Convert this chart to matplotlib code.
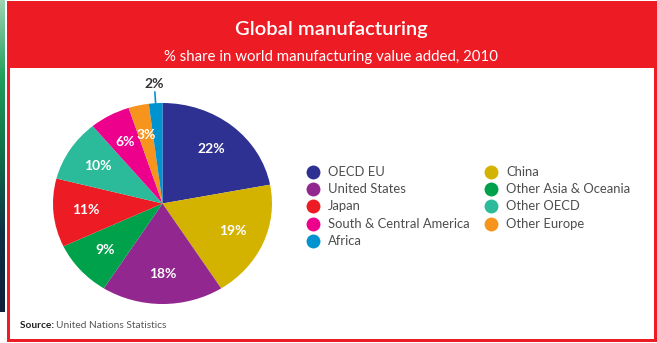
import numpy as np
import matplotlib
matplotlib.use("Agg")
import matplotlib.pyplot as plt
from matplotlib.patches import Rectangle
from matplotlib.colors import LinearSegmentedColormap

# ---- data ----
categories = ["OECD EU", "China", "United States", "Other Asia & Oceania", "Japan",
              "Other OECD", "South & Central America", "Other Europe", "Africa"]
values = [22, 19, 18, 9, 11, 10, 6, 3, 2]
colors = ["#2E3192", "#D4B300", "#92278F", "#00A14B", "#ED1C24",
          "#2BBB9A", "#EC008C", "#F7941D", "#0093D0"]
legend_order = ["OECD EU", "United States", "Japan", "South & Central America", "Africa",
                "China", "Other Asia & Oceania", "Other OECD", "Other Europe"]
title = "Global manufacturing"
subtitle = "% share in world manufacturing value added, 2010"
source_bold = "Source:"
source_text = "United Nations Statistics"

FONT = "Lato"
plt.rcParams["font.family"] = [FONT, "DejaVu Sans"]

W, H = 657, 343
fig = plt.figure(figsize=(W / 100, H / 100), dpi=100)
bg = fig.add_axes([0, 0, 1, 1])
bg.set_xlim(0, W)
bg.set_ylim(H, 0)
bg.axis("off")

RED = "#ED1C24"
# green/navy strip at left edge
grad = np.linspace(0, 1, 256).reshape(-1, 1)
cm = LinearSegmentedColormap.from_list("strip", ["#9ED3B0", "#1E9E5A", "#0E6E48", "#0D2F45", "#0F1F3C"])
bg.imshow(grad, aspect="auto", cmap=cm, extent=[0, 5, 312, 0], zorder=0)

# red frame and header
bg.add_patch(Rectangle((7, 1), W - 7, H - 2, facecolor=RED, edgecolor="none", zorder=1))
bg.add_patch(Rectangle((9.5, 68), 654 - 9.5, 339 - 68, facecolor="white", edgecolor="none", zorder=2))

bg.text(331, 30, title, color="white", fontsize=14.5, fontweight="semibold",
        ha="center", va="center", zorder=3)
bg.text(331, 57, subtitle, color="white", fontsize=10.8, ha="center", va="center", zorder=3)

# source
t = bg.text(20, 325, source_bold + " ", color="#222222", fontsize=7.3, fontweight="bold",
            ha="left", va="center", zorder=3)
fig.canvas.draw()
bb = t.get_window_extent()
bg.text(20 + bb.width, 325, source_text, color="#555555", fontsize=7.3,
        ha="left", va="center", zorder=3)

# ---- pie ----
pax = fig.add_axes([53 / W, (H - 304) / H, 219 / W, 201 / H])
wedges, texts, autotexts = pax.pie(
    values, colors=colors, startangle=90, counterclock=False,
    autopct=lambda p: f"{round(p):d}%", pctdistance=0.70,
    wedgeprops=dict(linewidth=0),
    textprops=dict(color="white", fontsize=10, fontweight="bold"))
pax.set_aspect("auto")
pax.set_xlim(-1, 1)
pax.set_ylim(-1, 1)
# small last slice gets an outside label
small = len(values) - 1
autotexts[small].set_visible(False)
w = wedges[small]
ang = np.deg2rad((w.theta1 + w.theta2) / 2)
x, y = np.cos(ang), np.sin(ang)
pax.plot([x, x * 1.11], [y, y * 1.11], color=colors[small], lw=1.2, clip_on=False)
pax.text(x * 1.19, y * 1.19, f"{values[small]}%", color="#333333", fontsize=10,
         fontweight="bold", ha="center", va="center", clip_on=False)

# ---- legend ----
col_x = [313, 491]
row_y0, row_dy = 172, 17.2
for i, name in enumerate(legend_order):
    col = 0 if i < 5 else 1
    row = i if i < 5 else i - 5
    cx = col_x[col]
    cy = row_y0 + row * row_dy
    c = colors[categories.index(name)]
    bg.plot(cx, cy, "o", ms=10, color=c, mec="none", zorder=3)
    bg.text(cx + 15, cy, name, color="#4D4D4D", fontsize=9.4, ha="left", va="center", zorder=3)

fig.savefig("out.png", dpi=100)
